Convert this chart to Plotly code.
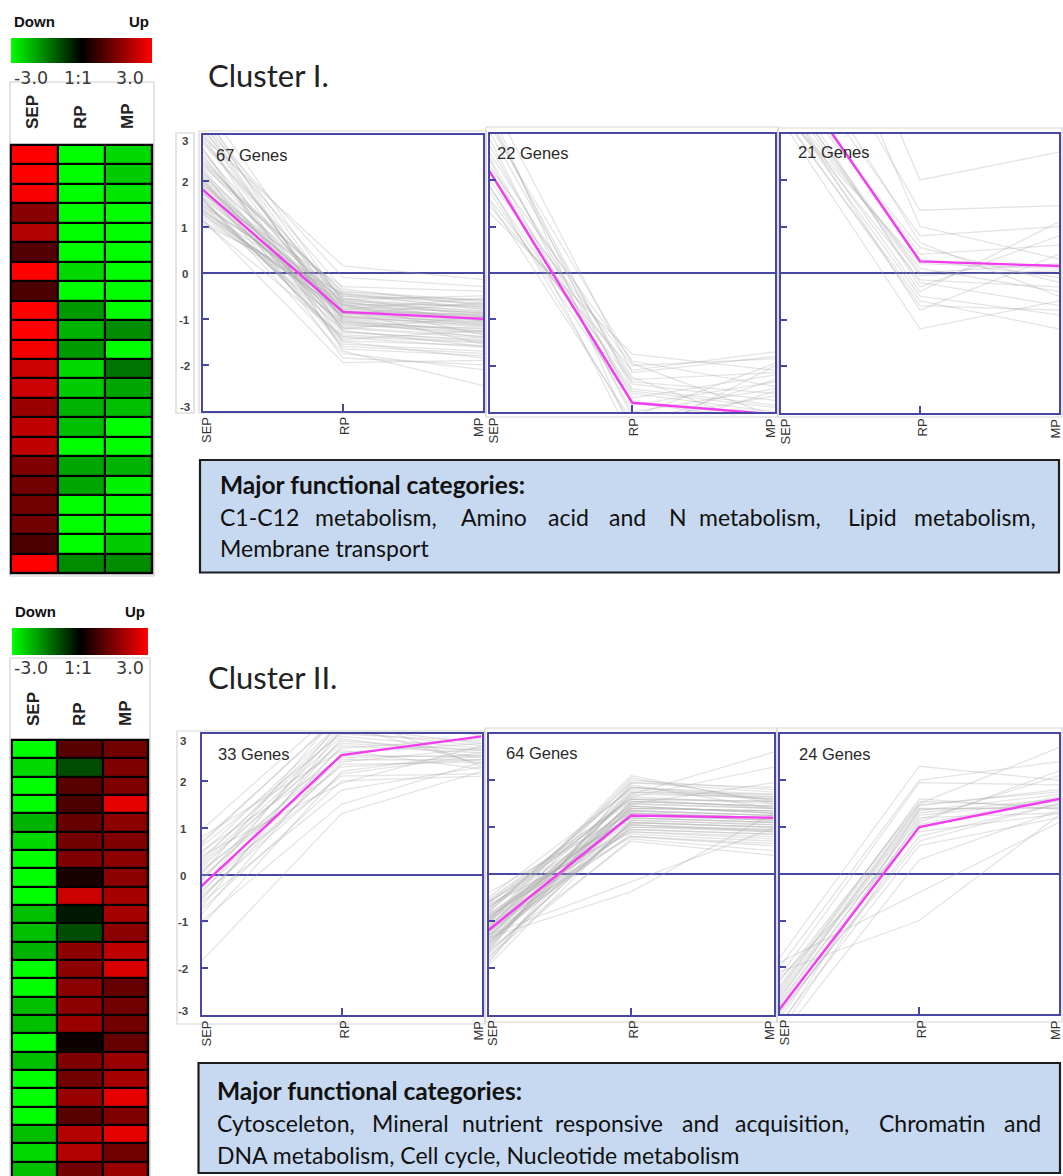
import plotly.graph_objects as go

W, H = 1063, 1176
def fx(px): return px / W
def fy(py): return 1 - py / H

stages = ["SEP", "RP", "MP"]

# ---------------- heatmap values (log ratio, -3..3) ----------------
heat1_sep = [3.0, 3.0, 2.9, 1.6, 2.1, 1.0, 3.0, 0.9, 3.0, 3.0, 2.85, 2.4, 2.4, 1.8, 2.25, 2.25, 1.5, 1.35, 1.35, 1.35, 0.9, 3.0]
heat1_rp = [-3.0, -3.0, -3.0, -3.0, -3.0, -3.0, -2.55, -3.0, -1.8, -2.1, -1.8, -2.55, -2.4, -2.1, -2.25, -3.0, -1.95, -1.95, -3.0, -3.0, -3.0, -1.65]
heat1_mp = [-2.55, -2.4, -2.7, -3.0, -3.0, -3.0, -3.0, -3.0, -3.0, -1.65, -3.0, -1.35, -1.95, -2.25, -3.0, -3.0, -2.1, -2.85, -3.0, -3.0, -2.4, -1.65]

heat2_sep = [-3.0, -2.55, -3.0, -3.0, -2.1, -2.55, -3.0, -3.0, -3.0, -2.25, -2.25, -2.1, -3.0, -3.0, -2.25, -2.25, -3.0, -2.25, -3.0, -3.0, -3.0, -2.25, -2.55, -2.25]
heat2_rp = [1.05, -0.9, 1.05, 0.9, 1.2, 1.35, 1.5, 0.3, 2.4, -0.3, -0.9, 1.65, 1.65, 1.65, 1.65, 1.8, 0.15, 1.5, 1.35, 1.8, 1.05, 2.1, 2.1, 1.35]
heat2_mp = [1.35, 1.5, 1.5, 2.7, 1.65, 1.5, 1.65, 1.65, 1.95, 1.95, 1.65, 2.25, 2.55, 1.2, 1.35, 1.35, 1.2, 1.8, 1.95, 2.7, 1.5, 2.7, 1.35, 1.8]

scale_ticks = ["-3.0", "1:1", "3.0"]

# ---------------- gene profiles per panel ----------------
p1_sep = [1.05, 1.12, 1.20, 1.28, 1.33, 1.40, 1.46, 1.52, 1.58, 1.63,
          1.70, 1.74, 1.80, 1.86, 1.90, 1.95, 2.02, 2.10, 2.15, 2.22,
          2.30, 2.38, 2.45, 2.55, 2.62, 2.70, 2.80, 2.90, 3.00, 3.10,
          3.20, 3.35, 3.50, 3.70, 1.15, 1.25, 1.37, 1.44, 1.55, 1.66,
          1.77, 1.83, 1.92, 2.00, 2.07, 2.18, 2.26, 2.40, 2.50, 2.68,
          2.85, 3.05, 3.25, 3.45, 1.10, 1.30, 1.48, 1.60, 1.72, 1.88,
          2.05, 2.35, 2.95, 3.15, 1.35, 1.62, 1.98]
p1_rp = [-0.45, -0.62, -0.80, -1.10, -0.55, -0.95, -1.25, -0.70, -1.45, -0.85,
         -0.30, -1.05, -0.60, -1.60, -0.75, -0.90, -1.35, -0.50, -1.15, -1.85,
         -0.40, -0.98, -0.68, -1.22, -0.82, -1.50, -0.58, -1.02, -1.70, -0.35,
         -0.10, -0.88, -1.30, -0.65, -1.95, -0.72, -1.08, -0.48, -1.40, -0.92,
         -0.78, -1.18, -0.52, -1.55, -0.86, -0.66, -1.28, -0.42, -1.00, -1.65,
         -0.57, -0.94, -1.12, -0.74, -1.38, -0.83, -0.62, -1.75, -0.96, -0.70,
         -1.20, -0.46, 0.15, -1.05, -0.88, -1.48, -0.80]
p1_mp = [-0.80, -1.05, -0.55, -1.30, -0.95, -1.15, -1.60, -0.70, -1.25, -0.90,
         -0.40, -1.40, -0.85, -1.75, -1.00, -0.65, -1.50, -0.75, -1.20, -2.00,
         -0.60, -1.10, -1.35, -0.95, -1.55, -1.85, -0.50, -1.28, -2.45, -0.72,
         -0.30, -1.02, -1.45, -0.88, -1.90, -0.98, -1.22, -0.68, -1.62, -1.08,
         -0.92, -1.38, -0.58, -1.70, -1.12, -0.82, -1.48, -0.62, -1.18, -1.80,
         -0.78, -1.06, -1.32, -0.86, -1.52, -0.96, -0.74, -2.10, -1.14, -0.88,
         -1.42, -0.66, -0.15, -1.26, -1.04, -1.58, -0.94]
p1_mean = [1.8, -0.85, -1.0]

p2_sep = [1.30, 1.45, 1.60, 1.75, 1.90, 2.00, 2.15, 2.30, 2.45, 2.60, 2.75,
          2.90, 3.05, 3.20, 3.40, 3.60, 3.80, 1.55, 1.85, 2.20, 2.50, 3.30]
p2_rp = [-1.75, -2.10, -2.35, -2.80, -3.30, -2.00, -2.55, -1.90, -3.60, -2.25, -2.70,
         -3.10, -2.40, -1.95, -2.85, -3.50, -2.15, -3.20, -2.60, -2.30, -3.00, -2.50]
p2_mp = [-2.10, -1.70, -2.60, -3.20, -2.30, -1.85, -2.90, -2.45, -2.00, -3.40, -2.20,
         -1.95, -2.75, -3.10, -2.35, -2.55, -1.80, -2.65, -3.00, -2.15, -2.50, -2.85]
p2_mean = [2.2, -2.8, -3.05]

p3_sep = [9.0, 6.5, 8.0, 5.0, 4.2, 4.4, 3.5, 3.7, 3.9, 4.1, 4.3,
          3.6, 3.4, 3.8, 3.3, 4.6, 3.55, 3.75, 5.5, 3.45, 4.0]
p3_rp = [2.0, 1.35, 1.0, 0.8, 0.55, 0.4, 0.2, 0.1, -0.05, -0.2, -0.3,
         -0.5, -0.6, -0.8, -1.2, 0.3, -0.15, -0.4, 0.65, -0.7, 0.0]
p3_mp = [2.6, 1.45, 0.3, 1.0, -0.2, 0.6, 0.1, -0.4, 0.05, -0.7, 0.8,
         -0.9, -1.2, 0.4, -0.6, -0.1, -0.3, 1.1, -0.5, -0.8, 0.2]
p3_mean = [4.6, 0.25, 0.15]

p4_sep = [-1.85, -1.10, -1.00, -0.85, -0.70, -0.60, -0.50, -0.40, -0.30, -0.20, -0.10,
          0.00, 0.10, 0.20, 0.30, 0.40, 0.50, 0.60, 0.70, 0.80, 0.95, -0.75,
          -0.55, -0.35, -0.15, 0.05, 0.25, 0.45, 0.65, -0.45, 0.15, 0.35, -0.05]
p4_rp = [1.30, 2.20, 1.50, 2.60, 3.10, 1.80, 2.40, 2.90, 3.30, 2.10, 2.70,
         3.50, 2.30, 2.80, 3.20, 1.95, 2.50, 3.00, 3.40, 2.65, 3.60, 2.00,
         2.75, 2.35, 3.15, 2.55, 2.95, 3.25, 3.45, 2.15, 2.85, 3.05, 2.45]
p4_mp = [2.20, 2.60, 2.40, 2.80, 3.00, 2.30, 2.70, 2.50, 3.10, 2.15, 2.90,
         3.20, 2.45, 2.65, 2.35, 2.75, 2.55, 2.85, 3.05, 2.25, 2.95, 2.10,
         2.60, 2.40, 2.80, 2.50, 2.70, 3.15, 2.30, 2.55, 2.65, 2.75, 2.45]
p4_mean = [-0.25, 2.55, 2.95]

p5_sep = [-0.40, -0.55, -0.65, -0.75, -0.85, -0.95, -1.05, -1.15, -1.25, -1.35,
          -1.45, -1.55, -1.65, -1.75, -1.85, -1.95, -0.50, -0.60, -0.70, -0.80,
          -0.90, -1.00, -1.10, -1.20, -1.30, -1.40, -1.50, -1.60, -1.70, -1.80,
          -0.72, -0.88, -1.02, -1.18, -1.32, -1.48, -1.62, -0.78, -0.92, -1.08,
          -1.22, -1.38, -1.52, -0.68, -0.82, -0.98, -1.12, -1.28, -1.42, -1.58,
          -0.62, -0.86, -1.04, -1.24, -1.46, -1.68, -0.58, -0.96, -1.36, -1.90,
          -1.30, -0.60, -1.14, -0.94]
p5_rp = [1.30, 1.60, 0.90, 1.85, 1.10, 1.45, 2.05, 0.80, 1.25, 1.70,
         1.00, 1.55, 1.95, 0.75, 1.35, 1.15, 1.80, 1.40, 0.95, 1.65,
         1.20, 2.10, 1.05, 1.50, 0.85, 1.75, 1.30, 1.90, 1.10, 1.45,
         1.60, 0.90, 1.35, 2.00, 1.25, 1.55, 0.70, 1.85, 1.15, 1.40,
         1.70, 1.05, 1.50, 1.20, 1.95, 0.80, 1.65, 1.30, 1.00, 1.45,
         1.55, 1.25, 1.75, 0.95, 1.40, 1.10, 1.60, 1.35, -0.38, 1.85,
         -0.17, 1.20, 1.50, 1.05]
p5_mp = [1.20, 1.40, 0.80, 1.65, 1.00, 1.30, 1.55, 0.60, 1.15, 2.60,
         0.95, 1.45, 1.75, 0.50, 1.25, 1.05, 1.60, 1.35, 0.85, 2.28,
         1.10, 1.50, 0.90, 1.95, 0.70, 1.70, 1.20, 1.40, 1.00, 1.30,
         1.55, 0.75, 1.25, 1.80, 1.15, 1.45, 0.40, 1.60, 1.05, 1.35,
         1.65, 0.95, 1.40, 1.10, 1.85, 0.65, 1.50, 1.20, 0.90, 1.30,
         1.45, 1.15, 1.60, 0.85, 1.35, 1.00, 1.55, 1.25, 1.30, 1.70,
         0.98, 1.10, 1.40, 0.92]
p5_mean = [-1.2, 1.25, 1.2]

p6_sep = [-1.80, -2.00, -2.20, -2.30, -2.45, -2.55, -2.65, -2.75, -2.85, -3.00, -3.20, -3.50,
          -1.90, -2.10, -2.40, -2.60, -2.80, -3.10, -3.40, -2.25, -2.50, -2.70, -2.95, -3.30]
p6_rp = [2.30, 2.00, 1.95, 1.50, 1.45, 1.40, 1.30, 1.20, 1.10, 0.80, 0.60, 0.30,
         -0.40, -1.00, 1.55, 1.35, 1.25, 1.15, 1.05, 0.90, 1.60, 1.48, 0.70, 1.38]
p6_mp = [2.00, 2.40, 1.90, 2.70, 1.80, 1.40, 1.60, 1.30, 2.20, 1.50, 1.20, 1.35,
         1.10, 1.25, 1.45, 1.70, 1.55, 2.10, 1.65, 1.28, 1.38, 1.75, 1.50, 1.42]
p6_mean = [-2.9, 1.0, 1.6]

panel_labels = ["67 Genes", "22 Genes", "21 Genes", "33 Genes", "64 Genes", "24 Genes"]
y_tick_vals = [3, 2, 1, 0, -1, -2, -3]
cluster_titles = ["Cluster I.", "Cluster II."]
box_title = "Major functional categories:"
box1_line2 = ["C1-C12", "metabolism,", "Amino", "acid", "and", "N", "metabolism,", "Lipid", "metabolism,"]
box1_line3 = "Membrane transport"
box2_line2 = ["Cytosceleton,", "Mineral", "nutrient", "responsive", "and", "acquisition,", "Chromatin", "and"]
box2_line3 = "DNA metabolism, Cell cycle, Nucleotide metabolism"

# ---------------- styling / layout constants ----------------
NAVY = "#4848a4"
MAGENTA = "#f23cf0"
GREY = "rgba(172,172,172,0.32)"
colorscale = [[0, "#00ff00"], [0.5, "#000000"], [1, "#ff0000"]]

fig = go.Figure()
shapes, annots = [], []

# ---------- heatmaps ----------
heat_specs = [
    dict(sep=heat1_sep, rp=heat1_rp, mp=heat1_mp, x=(11, 152), y=(145, 573), rows_shown=None,
         cb_y=38, cb_th=25, top_down=22, ticks_y=78, lab_bottom=131, lab_x=(33, 81, 128), frame=(10, 82, 154, 576)),
    dict(sep=heat2_sep, rp=heat2_rp, mp=heat2_mp, x=(12, 148), y=(740, 1176), rows_shown=23.78,
         cb_y=628, cb_th=27, top_down=611, ticks_y=668, lab_bottom=728, lab_x=(33, 79, 125), frame=(10, 658, 150, 1180)),
]
for i, hs in enumerate(heat_specs):
    n = len(hs["sep"])
    z = [[a, b, c] for a, b, c in zip(hs["sep"], hs["rp"], hs["mp"])]
    ax = "" if i == 0 else "2"
    x0, x1 = hs["x"]
    y0, y1 = hs["y"]
    fig.add_trace(go.Heatmap(
        z=z, x=stages, y=list(range(n)), colorscale=colorscale, zmin=-3, zmax=3,
        xgap=2.2, ygap=2.2, hoverinfo="skip", xaxis="x" + ax, yaxis="y" + ax,
        showscale=True,
        colorbar=dict(orientation="h", x=fx(x0), xanchor="left", y=fy(hs["cb_y"]), yanchor="top",
                      len=x1 - x0, lenmode="pixels", thickness=hs["cb_th"], thicknessmode="pixels",
                      xpad=0, ypad=0, outlinewidth=0, showticklabels=False, ticks=""),
    ))
    rng = [n - 0.5, -0.5] if hs["rows_shown"] is None else [hs["rows_shown"] - 0.5, -0.5]
    fig.layout["xaxis" + ax] = dict(domain=[fx(x0), fx(x1)], range=[-0.5, 2.5], visible=False,
                                    anchor="y" + ax, fixedrange=True)
    fig.layout["yaxis" + ax] = dict(domain=[max(fy(y1), 0), fy(y0)], range=rng, visible=False,
                                    anchor="x" + ax, fixedrange=True)
    fl, ft, fr, fb = hs["frame"]
    shapes.append(dict(type="rect", xref="paper", yref="paper", x0=fx(fl), x1=fx(fr), y0=fy(fb), y1=fy(ft),
                       line=dict(color="#cfcfcf", width=1.2), fillcolor="rgba(0,0,0,0)", layer="below"))
    shapes.append(dict(type="rect", xref="paper", yref="paper", x0=fx(x0 - 1.2), x1=fx(x1 + 1.2),
                       y0=fy(min(y1 + 1.2, H)), y1=fy(y0 - 1.2),
                       line=dict(width=0), fillcolor="black", layer="below"))
    # Down / Up
    annots.append(dict(text="<b>Down</b>", x=fx(x0 + 1), y=fy(hs["top_down"]), xref="paper", yref="paper",
                       xanchor="left", yanchor="middle", showarrow=False,
                       font=dict(family="Liberation Sans", size=15, color="#111")))
    annots.append(dict(text="<b>Up</b>", x=fx(x1 - 1), y=fy(hs["top_down"]), xref="paper", yref="paper",
                       xanchor="right", yanchor="middle", showarrow=False,
                       font=dict(family="Liberation Sans", size=15, color="#111")))
    for t, cx in zip(scale_ticks, (31, 78, 130)):
        annots.append(dict(text=t, x=fx(cx), y=fy(hs["ticks_y"]), xref="paper", yref="paper",
                           xanchor="center", yanchor="middle", showarrow=False,
                           font=dict(family="DejaVu Sans", size=17.5, color="#3a3a3a")))
    for st, lx in zip(stages, hs["lab_x"]):
        annots.append(dict(text="<b>" + st + "</b>", x=fx(lx), y=fy(hs["lab_bottom"]), xref="paper", yref="paper",
                           xanchor="center", yanchor="bottom", textangle=-90, showarrow=False,
                           font=dict(family="Liberation Sans", size=17, color="#222")))

# ---------- line panels ----------
panels = [
    (p1_sep, p1_rp, p1_mp, p1_mean, (203, 483), (134.5, 411)),
    (p2_sep, p2_rp, p2_mp, p2_mean, (489.5, 775), (134, 412)),
    (p3_sep, p3_rp, p3_mp, p3_mean, (781, 1059), (133.5, 412.5)),
    (p4_sep, p4_rp, p4_mp, p4_mean, (201.5, 481.5), (734, 1015)),
    (p5_sep, p5_rp, p5_mp, p5_mean, (488.5, 773.5), (733.5, 1014.5)),
    (p6_sep, p6_rp, p6_mp, p6_mean, (779.5, 1059), (733.5, 1014)),
]
cards = [(199, 131, 486, 413), (486, 127, 778, 417), (778, 128, 1062, 417),
         (177, 731, 485, 1024), (485, 728, 777, 1022), (777, 728, 1062, 1022)]
label_pos = [(214, 155), (495, 153), (796, 152), (216, 754), (504, 753), (797, 754)]

for k, (ps, pr, pm, pmean, (x0, x1), (y0, y1)) in enumerate(panels):
    ax = str(k + 3)
    for a, b, c in zip(ps, pr, pm):
        fig.add_trace(go.Scatter(x=stages, y=[a, b, c], mode="lines", xaxis="x" + ax, yaxis="y" + ax,
                                 line=dict(color=GREY, width=1.3), hoverinfo="skip", showlegend=False))
    fig.add_trace(go.Scatter(x=stages, y=pmean, mode="lines", xaxis="x" + ax, yaxis="y" + ax,
                             line=dict(color=MAGENTA, width=2.4), hoverinfo="skip", showlegend=False))
    fig.layout["xaxis" + ax] = dict(domain=[fx(x0), fx(x1)], type="category", range=[0, 2],
                                    tickvals=["RP"], ticks="inside", ticklen=7, tickwidth=1.5, tickcolor=NAVY,
                                    showticklabels=False, showgrid=False, zeroline=False,
                                    showline=True, mirror=True, linecolor=NAVY, linewidth=2,
                                    anchor="y" + ax, fixedrange=True)
    fig.layout["yaxis" + ax] = dict(domain=[fy(y1), fy(y0)], range=[-3, 3],
                                    tickvals=[-2, -1, 1, 2], ticks="inside", ticklen=6, tickwidth=1.5, tickcolor=NAVY,
                                    showticklabels=False, showgrid=False,
                                    zeroline=True, zerolinecolor=NAVY, zerolinewidth=1.6,
                                    showline=True, mirror=True, linecolor=NAVY, linewidth=2,
                                    anchor="x" + ax, fixedrange=True)
    cl, ct, cr, cb = cards[k]
    shapes.append(dict(type="rect", xref="paper", yref="paper", x0=fx(cl), x1=fx(cr), y0=fy(cb), y1=fy(ct),
                       line=dict(color="#d6d6d6", width=1.2), fillcolor="rgba(0,0,0,0)", layer="below"))
    lx, ly = label_pos[k]
    annots.append(dict(text=panel_labels[k], x=fx(lx), y=fy(ly), xref="paper", yref="paper",
                       xanchor="left", yanchor="middle", showarrow=False,
                       font=dict(family="Liberation Sans", size=16.5, color="#2a2a2a")))
    # stage labels under the axis
    for st, sh in zip(stages, (4, 2, -4)):
        annots.append(dict(text=st, x=st, xref="x" + ax, y=fy(y1 + 4), yref="paper", xshift=sh,
                           xanchor="center", yanchor="top", textangle=-90, showarrow=False,
                           font=dict(family="Liberation Sans", size=13, color="#333")))
    # y tick labels on first panel of each cluster
    if k in (0, 3):
        for v in y_tick_vals:
            sh = -7 if v == 3 else (4 if v == -3 else -1)
            annots.append(dict(text="<b>%d</b>" % v, x=fx(x0 - 18.5), xref="paper", y=v, yref="y" + ax,
                               yshift=sh, xanchor="center", yanchor="middle", showarrow=False,
                               font=dict(family="Liberation Sans", size=11.5, color="#444")))

# tick-label box of the first cluster
shapes.append(dict(type="rect", xref="paper", yref="paper", x0=fx(176), x1=fx(194), y0=fy(413), y1=fy(133),
                   line=dict(color="#d0d0d0", width=1.2), fillcolor="rgba(0,0,0,0)", layer="below"))

# ---------- cluster titles ----------
for t, ty in zip(cluster_titles, (75, 677)):
    annots.append(dict(text=t, x=fx(206), y=fy(ty), xref="paper", yref="paper", xanchor="left",
                       yanchor="middle", showarrow=False, font=dict(family="Lato", size=31, color="#222")))

# ---------- functional category boxes ----------
boxes = [
    dict(rect=(200, 460, 1059, 572.5), lines_y=(484.5, 517, 548), words=box1_line2,
         word_x=(217.5, 313, 459, 546, 607, 667, 697, 846, 912), last=box1_line3),
    dict(rect=(198.5, 1063, 1060, 1173), lines_y=(1090, 1123, 1155), words=box2_line2,
         word_x=(215, 370, 460, 553, 680, 733, 877, 1002), last=box2_line3),
]
BOXFONT = "Lato"
for b in boxes:
    l, t, r, btm = b["rect"]
    shapes.append(dict(type="rect", xref="paper", yref="paper", x0=fx(l), x1=fx(r), y0=fy(btm), y1=fy(t),
                       line=dict(color="#1e1e1e", width=2.2), fillcolor="#c6d9f0", layer="above"))
    ly1, ly2, ly3 = b["lines_y"]
    annots.append(dict(text="<b>" + box_title + "</b>", x=fx(b["word_x"][0]), y=fy(ly1), xref="paper",
                       yref="paper", xanchor="left", yanchor="middle", showarrow=False,
                       font=dict(family=BOXFONT, size=24.5, color="#111")))
    for w, wx in zip(b["words"], b["word_x"]):
        annots.append(dict(text=w, x=fx(wx), y=fy(ly2), xref="paper", yref="paper", xanchor="left",
                           yanchor="middle", showarrow=False, font=dict(family=BOXFONT, size=23, color="#111")))
    annots.append(dict(text=b["last"], x=fx(b["word_x"][0]), y=fy(ly3), xref="paper", yref="paper",
                       xanchor="left", yanchor="middle", showarrow=False,
                       font=dict(family=BOXFONT, size=23, color="#111")))

fig.update_layout(
    width=W, height=H, margin=dict(l=0, r=0, t=0, b=0, pad=0),
    paper_bgcolor="white", plot_bgcolor="rgba(0,0,0,0)",
    showlegend=False, shapes=shapes, annotations=annots,
)
page_fix = ("document.body.style.margin='0';document.body.style.overflow='hidden';"
            "document.documentElement.style.overflow='hidden';")
fig.write_html("out.html", config={"displayModeBar": False}, post_script=page_fix)
